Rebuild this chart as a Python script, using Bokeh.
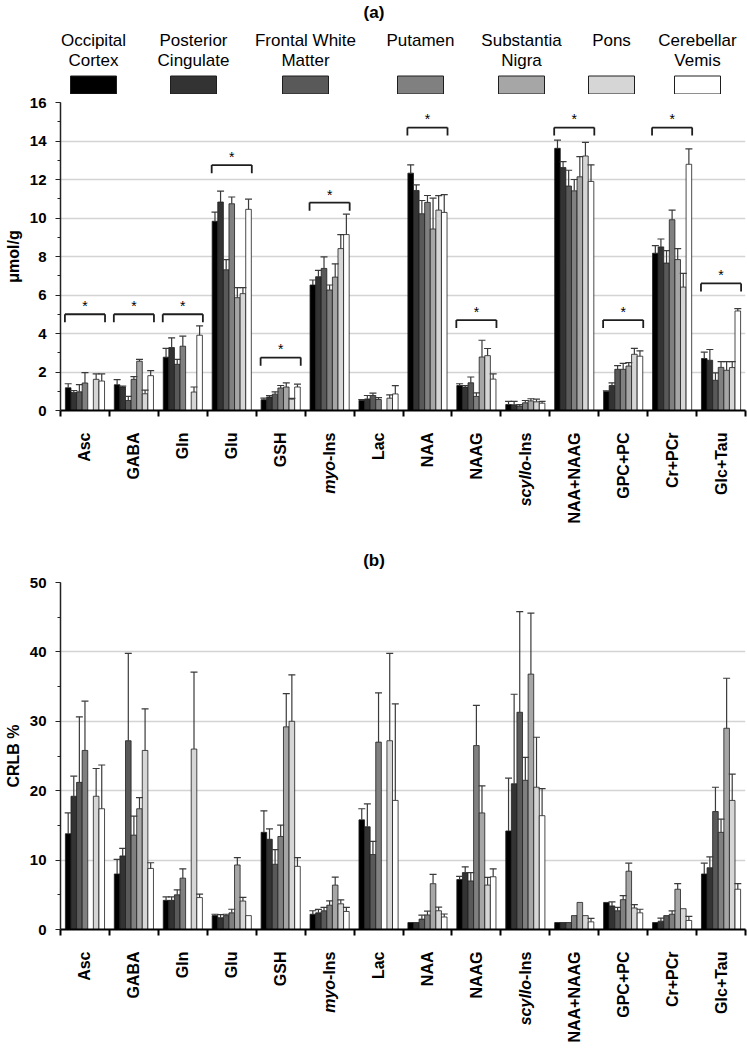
import numpy as np
from math import pi
from bokeh.plotting import figure
from bokeh.layouts import column
from bokeh.models import (ColumnDataSource, Range1d, FixedTicker, SingleIntervalTicker,
                          Whisker, TeeHead)
from bokeh.transform import dodge
from bokeh.core.properties import value
from bokeh.embed import file_html
from bokeh.resources import INLINE

# ---------------- data ----------------
metabolites = ["Asc", "GABA", "Gln", "Glu", "GSH", "myo-Ins", "Lac", "NAA", "NAAG",
               "scyllo-Ins", "NAA+NAAG", "GPC+PC", "Cr+PCr", "Glc+Tau"]
italic_prefix = {"myo-Ins": "myo", "scyllo-Ins": "scyllo"}

regions = ["Occipital\nCortex", "Posterior\nCingulate", "Frontal White\nMatter", "Putamen",
           "Substantia\nNigra", "Pons", "Cerebellar\nVemis"]
region_colors = ["#000000", "#333333", "#595959", "#808080", "#a6a6a6", "#d6d6d6", "#ffffff"]

# (a) concentrations, umol/g (mean) and SD ; None = not reported
conc_oc = [1.18, 1.34, 2.77, 9.83, 0.56, 6.52, 0.52, 12.33, 1.30, 0.31, 13.62, 0.99, 8.17, 2.70]
conc_pc = [0.94, 1.22, 3.27, 10.83, 0.70, 6.95, 0.60, 11.43, 1.22, 0.30, 12.62, 1.30, 8.50, 2.61]
conc_fwm = [0.97, 0.52, 2.40, 7.31, 0.85, 7.38, 0.78, 10.22, 1.44, 0.23, 11.66, 2.14, 7.66, 1.57]
conc_put = [1.43, 1.62, 3.34, 10.74, 1.17, 6.26, 0.57, 10.81, 0.73, 0.40, 11.41, 2.14, 9.91, 2.24]
conc_sn = [None, 2.56, None, 5.86, 1.22, 6.93, None, 9.43, 2.78, 0.50, 12.14, 2.31, 7.84, 2.09]
conc_pons = [1.62, 0.87, 0.96, 6.07, 0.59, 8.41, 0.64, 10.41, 2.85, 0.45, 13.22, 2.92, 6.41, 2.23]
conc_cv = [1.53, 1.81, 3.91, 10.45, 1.22, 9.14, 0.86, 10.29, 1.63, 0.38, 11.90, 2.82, 12.79, 5.17]

sd_oc = [0.21, 0.26, 0.46, 0.48, 0.08, 0.26, 0.05, 0.43, 0.09, 0.16, 0.43, 0.03, 0.40, 0.33]
sd_pc = [0.10, 0.05, 0.50, 0.57, 0.07, 0.33, 0.18, 0.29, 0.08, 0.17, 0.31, 0.14, 0.41, 0.56]
sd_fwm = [0.37, 0.21, 0.26, 0.53, 0.12, 0.60, 0.12, 0.69, 0.30, 0.08, 0.82, 0.19, 0.65, 0.38]
sd_put = [0.54, 0.14, 0.52, 0.35, 0.13, 0.26, 0.10, 0.36, 0.19, 0.12, 0.59, 0.31, 0.50, 0.30]
sd_sn = [None, 0.10, None, 0.52, 0.21, 0.69, None, 1.60, 0.87, 0.11, 1.05, 0.18, 0.57, 0.45]
sd_pons = [0.28, 0.19, 0.26, 0.31, 0.04, 0.73, 0.17, 0.75, 0.37, 0.14, 0.71, 0.31, 0.71, 0.31]
sd_cv = [0.37, 0.26, 0.49, 0.53, 0.15, 1.06, 0.43, 0.92, 0.27, 0.09, 0.86, 0.28, 0.80, 0.12]

# significance brackets in (a)
bracket_cats = ["Asc", "GABA", "Gln", "Glu", "GSH", "myo-Ins", "NAA", "NAAG",
                "NAA+NAAG", "GPC+PC", "Cr+PCr", "Glc+Tau"]
bracket_y = [5.0, 5.0, 5.0, 12.75, 2.75, 10.8, 14.7, 4.7, 14.7, 4.7, 14.7, 6.6]

# (b) CRLB %, mean and SD
crlb_oc = [13.8, 8.0, 4.2, 2.0, 14.0, 2.2, 15.8, 1.0, 7.2, 14.2, 1.0, 3.9, 1.0, 8.0]
crlb_pc = [19.2, 10.6, 4.2, 1.7, 13.0, 2.4, 14.8, 1.0, 8.2, 21.0, 1.0, 3.4, 1.2, 8.9]
crlb_fwm = [21.2, 27.2, 5.0, 2.0, 9.4, 2.7, 10.8, 1.5, 7.0, 31.3, 1.0, 2.7, 2.0, 17.0]
crlb_put = [25.8, 13.6, 7.4, 2.4, 13.4, 3.5, 27.0, 2.1, 26.5, 21.5, 2.0, 4.3, 2.2, 14.0]
crlb_sn = [None, 17.4, None, 9.3, 29.2, 6.4, None, 6.6, 16.8, 36.8, 3.9, 8.4, 5.8, 29.0]
crlb_pons = [19.2, 25.8, 26.0, 4.1, 30.0, 3.7, 27.2, 2.7, 6.4, 20.5, 2.0, 3.1, 3.0, 18.6]
crlb_cv = [17.4, 8.8, 4.6, 2.0, 9.1, 2.6, 18.6, 1.8, 7.6, 16.4, 1.1, 2.4, 1.3, 5.8]

crlb_sd_oc = [3.0, 2.1, 0.5, 0.2, 3.1, 0.5, 1.6, None, 0.45, 7.6, None, None, None, 1.55]
crlb_sd_pc = [2.9, 1.1, 0.5, 0.43, 1.5, 0.5, 3.3, None, 0.83, 12.9, None, 0.57, 0.44, 1.56]
crlb_sd_fwm = [9.45, 12.6, 0.72, 0.2, 2.1, 0.48, 1.9, 0.56, 1.2, 14.5, None, 0.48, None, 3.5]
crlb_sd_put = [7.1, 2.74, 1.34, 0.52, 1.65, 0.63, 7.1, 0.54, 5.8, 3.3, None, 0.57, 0.48, 1.9]
crlb_sd_sn = [None, 1.6, None, 1.07, 4.8, 1.16, None, 1.33, 3.9, 8.8, None, 1.15, 0.82, 7.2]
crlb_sd_pons = [4.0, 6.0, 11.1, 0.53, 6.7, 0.58, 12.6, 0.53, 1.1, 7.2, None, 0.47, None, 3.8]
crlb_sd_cv = [6.3, 0.82, 0.5, None, 1.27, 0.58, 13.9, 0.43, 1.15, 3.9, 0.5, 0.52, 0.58, 0.82]

conc_means = [conc_oc, conc_pc, conc_fwm, conc_put, conc_sn, conc_pons, conc_cv]
conc_sds = [sd_oc, sd_pc, sd_fwm, sd_put, sd_sn, sd_pons, sd_cv]
crlb_means = [crlb_oc, crlb_pc, crlb_fwm, crlb_put, crlb_sn, crlb_pons, crlb_cv]
crlb_sds = [crlb_sd_oc, crlb_sd_pc, crlb_sd_fwm, crlb_sd_put, crlb_sd_sn, crlb_sd_pons, crlb_sd_cv]

# ---------------- layout / style ----------------
W = 747
FONT_NAME = "Liberation Sans"
FONT = value(FONT_NAME)
legend_x_px = [93, 193, 305, 420, 521, 611, 697]
n = len(metabolites)
xc = np.arange(n) + 0.5
GROUP = 0.8
BW = GROUP / len(regions)
BORDER_L, BORDER_R = 60, 2


def to_arr(lst):
    return np.array([np.nan if v is None else v for v in lst], dtype=float)


def make_panel(means, sds, ymax, interval, ylabel, height, btop, bbottom):
    p = figure(width=W, height=height, x_range=Range1d(0, n), y_range=Range1d(0, ymax),
               output_backend="svg", toolbar_location=None,
               min_border_left=BORDER_L, min_border_right=BORDER_R,
               min_border_top=btop, min_border_bottom=bbottom)
    p.outline_line_color = None
    for j, (m, s, col) in enumerate(zip(means, sds, region_colors)):
        m = to_arr(m)
        s = to_arr(s)
        src = ColumnDataSource(dict(xc=xc, val=m, up=m + s))
        off = -GROUP / 2 + BW * (j + 0.5)
        p.vbar(x=dodge("xc", off, range=p.x_range), top="val", bottom=0, width=BW,
               source=src, fill_color=col, line_color="#1e1e1e", line_width=0.8)
        w = Whisker(base=dodge("xc", off, range=p.x_range), lower="val", upper="up",
                    source=src, dimension="height", line_color="#3a3a3a", line_width=1.2,
                    lower_head=None,
                    upper_head=TeeHead(size=7, line_color="#3a3a3a", line_width=1.2),
                    level="annotation")
        p.add_layout(w)

    # x axis: ticks at category boundaries; category names drawn in a strip below
    ticks = list(range(n + 1))
    p.xaxis.ticker = FixedTicker(ticks=ticks)
    p.xaxis.major_label_overrides = {t: "" for t in ticks}
    p.xaxis.major_label_text_font_size = "0px"
    p.xaxis.major_label_standoff = 0
    p.xaxis.major_tick_in = 0
    p.xaxis.major_tick_out = 6
    p.xaxis.major_tick_line_width = 2
    p.xaxis.axis_line_width = 2
    p.xaxis.axis_line_color = "black"
    p.xaxis.major_tick_line_color = "black"
    p.xaxis.minor_tick_line_color = None
    p.xgrid.grid_line_color = None

    p.yaxis.ticker = SingleIntervalTicker(interval=interval, num_minor_ticks=2)
    p.yaxis.major_tick_in = 0
    p.yaxis.major_tick_out = 5
    p.yaxis.minor_tick_in = 0
    p.yaxis.minor_tick_out = 3
    p.yaxis.axis_line_color = "#222222"
    p.yaxis.axis_line_width = 1.5
    p.yaxis.major_tick_line_color = "#222222"
    p.yaxis.minor_tick_line_color = "#222222"
    p.yaxis.major_label_text_font = FONT_NAME
    p.yaxis.major_label_text_font_style = "bold"
    p.yaxis.major_label_text_font_size = "15px"
    p.yaxis.major_label_text_color = "black"
    p.yaxis.major_label_standoff = 9
    p.yaxis.axis_label = ylabel
    p.yaxis.axis_label_text_font = FONT_NAME
    p.yaxis.axis_label_text_font_style = "bold"
    p.yaxis.axis_label_text_font_size = "16px"
    p.yaxis.axis_label_text_color = "black"
    p.yaxis.axis_label_standoff = 5
    p.ygrid.grid_line_color = "#d4d4d4"
    p.ygrid.grid_line_width = 1.5
    return p


def make_strip(height, x_range):
    s = figure(width=W, height=height, x_range=x_range, y_range=Range1d(height, 0),
               output_backend="svg", toolbar_location=None,
               min_border_left=BORDER_L, min_border_right=BORDER_R,
               min_border_top=0, min_border_bottom=0,
               x_axis_location=None, y_axis_location=None)
    s.outline_line_color = None
    s.grid.visible = False
    return s


def make_label_strip(panel, height):
    s = make_strip(height, panel.x_range)
    up_txt, it_txt, it_y = [], [], []
    for mname in metabolites:
        pre = italic_prefix.get(mname, "")
        up_txt.append(mname[len(pre):])
        it_txt.append(pre)
        it_y.append(8 + 16 * 1.778 if pre else 8)
    src = ColumnDataSource(dict(xc=xc, up=up_txt, it=it_txt, ity=it_y))
    s.text(x="xc", y=8, text="up", source=src, angle=pi / 2, text_align="right",
           text_baseline="middle", text_font=FONT, text_font_style="bold",
           text_font_size="16px", text_color="black")
    s.text(x="xc", y="ity", text="it", source=src, angle=pi / 2, text_align="right",
           text_baseline="middle", text_font=FONT, text_font_style="bold italic",
           text_font_size="16px", text_color="black")
    return s


def make_title_strip(txt, height, ty):
    # x range in page pixels: frame spans BORDER_L .. W-BORDER_R (frames are aligned)
    t = make_strip(height, Range1d(BORDER_L, W - BORDER_R))
    t.text(x=[W / 2], y=[ty], text=[txt], text_align="center", text_baseline="middle",
           text_font=FONT, text_font_style="bold", text_font_size="17px", text_color="black")
    return t


# ---------------- top: title (a) + legend ----------------
top = make_title_strip("(a)", 94, 12)
line1 = [r.split("\n")[0] for r in regions]
line2 = [r.split("\n")[1] if "\n" in r else "" for r in regions]
top.text(x=legend_x_px, y=40, text=line1, text_align="center", text_baseline="middle",
         text_font=FONT, text_font_size="17px", text_color="black")
top.text(x=legend_x_px, y=59.5, text=line2, text_align="center", text_baseline="middle",
         text_font=FONT, text_font_size="17px", text_color="black")
top.rect(x=legend_x_px, y=84.5, width=46, height=18, fill_color=region_colors,
         line_color="#1e1e1e", line_width=1)

# ---------------- panel (a) ----------------
pa = make_panel(conc_means, conc_sds, 16, 2, "\u03bcmol/g", 330, 8, 14)
bsrc = ColumnDataSource(dict(xc=[xc[metabolites.index(c)] for c in bracket_cats], by=bracket_y))
pa.segment(x0=dodge("xc", -0.41, range=pa.x_range), x1=dodge("xc", 0.41, range=pa.x_range),
           y0="by", y1="by", source=bsrc, line_color="#1e1e1e", line_width=1.8)
for sgn in (-0.41, 0.41):
    pa.segment(x0=dodge("xc", sgn, range=pa.x_range), x1=dodge("xc", sgn, range=pa.x_range),
               y0="by", y1=dodge("by", -0.42, range=pa.y_range), source=bsrc,
               line_color="#1e1e1e", line_width=1.8)
pa.text(x="xc", y=dodge("by", 0.42, range=pa.y_range), text=value("*"), source=bsrc,
        text_align="center", text_baseline="middle", text_font=FONT,
        text_font_size="14px", text_color="black")
laba = make_label_strip(pa, 126)

# ---------------- panel (b) ----------------
tb = make_title_strip("(b)", 25, 10)
pb = make_panel(crlb_means, crlb_sds, 50, 10, "CRLB %", 368, 7, 14)
labb = make_label_strip(pb, 107)

layout = column(top, pa, laba, tb, pb, labb, spacing=0)
open("out.html", "w").write(file_html(layout, INLINE))
